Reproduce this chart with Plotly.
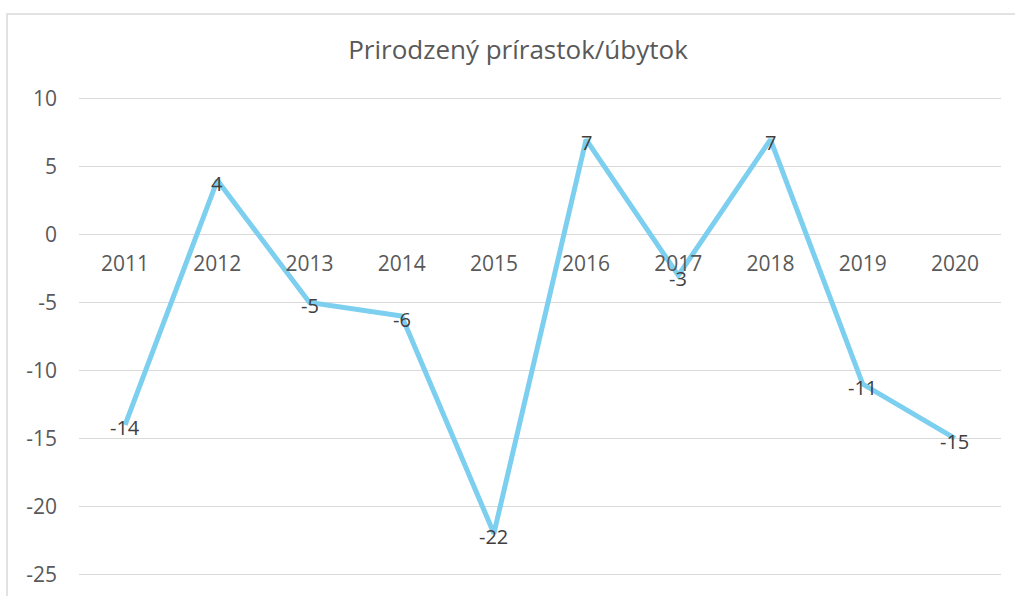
import plotly.graph_objects as go

years = ["2011", "2012", "2013", "2014", "2015", "2016", "2017", "2018", "2019", "2020"]
values = [-14, 4, -5, -6, -22, 7, -3, 7, -11, -15]
y_ticks = [10, 5, 0, -5, -10, -15, -20, -25]
title = "Prirodzený prírastok/úbytok"

FONT = "Open Sans, DejaVu Sans, sans-serif"

fig = go.Figure()
fig.add_trace(go.Scatter(
    x=years, y=values,
    mode="lines",
    line=dict(color="#7ccfef", width=5),
    hoverinfo="skip",
))

# data labels (category index positions on the category axis)
for i, v in enumerate(values):
    fig.add_annotation(
        x=i, y=v, xref="x", yref="y", text=str(v), showarrow=False,
        xanchor="center", yanchor="middle", yshift=-3,
        font=dict(family=FONT, size=20, color="#404040"),
    )

W, H = 1015, 596
y_lo, y_hi = -25.5, 10.5
ml, mr, mt, mb = 79, 14, 92, 9
pw = W - ml - mr
ph = H - mt - mb

def px(x):
    return (x - ml) / pw

def py(y):
    return (H - mb - y) / ph

fig.update_layout(
    width=W, height=H,
    margin=dict(l=ml, r=mr, t=mt, b=mb),
    paper_bgcolor="white", plot_bgcolor="white",
    showlegend=False,
    title=dict(text=title, x=518 / W, xanchor="center", y=1 - 50 / H, yanchor="middle",
               font=dict(family=FONT, size=26, color="#595959")),
    xaxis=dict(
        type="category",
        categoryorder="array", categoryarray=years,
        range=[-0.5, len(years) - 0.5],
        anchor="free", position=(0 - y_lo) / (y_hi - y_lo),
        showline=False, showgrid=False, zeroline=False,
        ticks="", ticklabelstandoff=14,
        tickfont=dict(family=FONT, size=21, color="#595959"),
        fixedrange=True,
    ),
    yaxis=dict(
        range=[y_lo, y_hi],
        tickvals=y_ticks,
        ticktext=[str(v) for v in y_ticks],
        showgrid=True, gridcolor="#d9d9d9", gridwidth=1.3,
        zeroline=False, showline=False, ticks="",
        tickfont=dict(family=FONT, size=21, color="#595959"),
        ticklabelstandoff=21,
        fixedrange=True,
    ),
    shapes=[dict(
        type="rect", xref="paper", yref="paper",
        x0=px(7), x1=px(1030), y0=py(620), y1=py(13),
        line=dict(color="#d9d9d9", width=1.5), fillcolor="rgba(0,0,0,0)", layer="below",
    )],
)

fig.write_html("out.html", config={"displayModeBar": False},
               post_script="document.body.style.margin='0';")
